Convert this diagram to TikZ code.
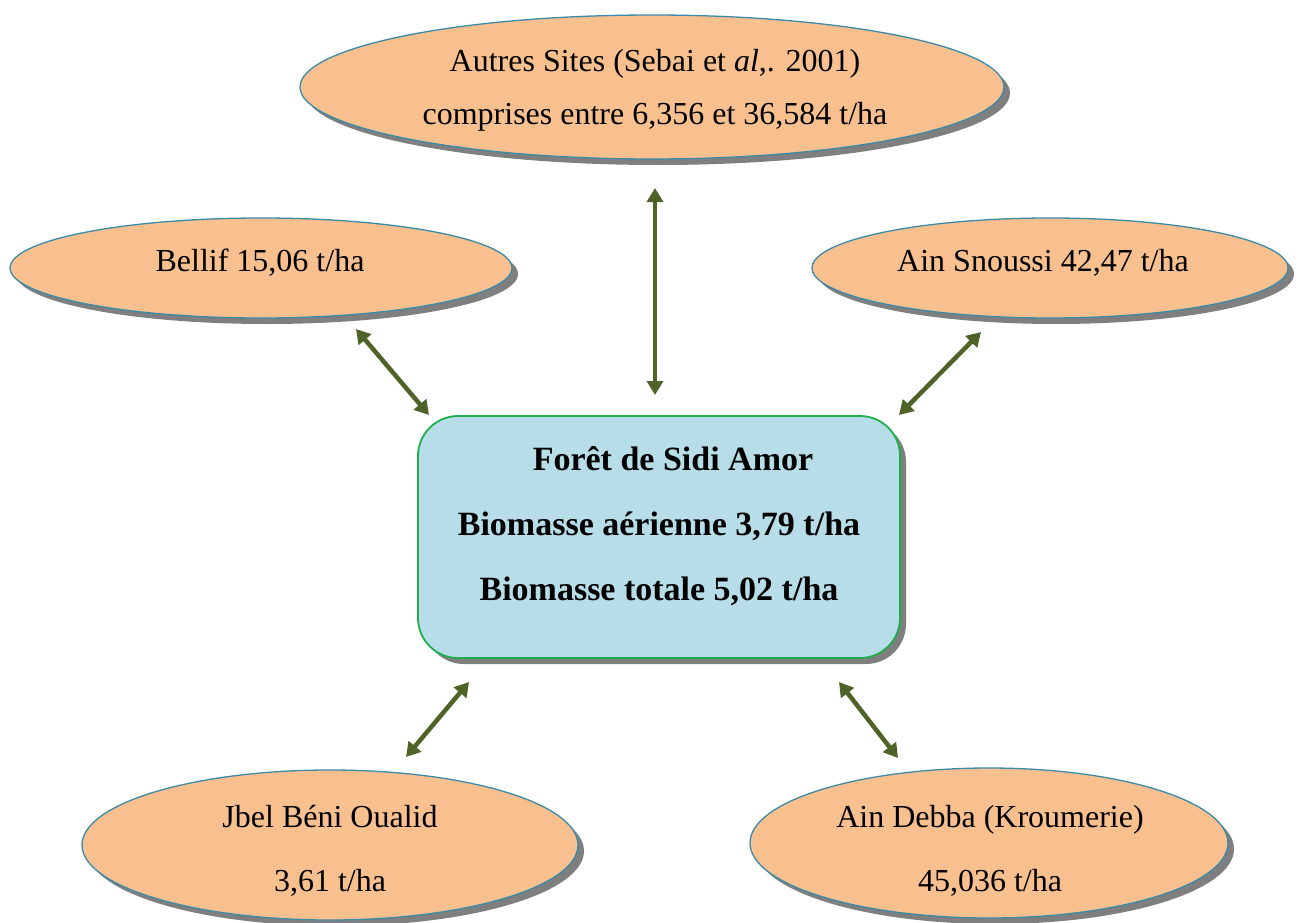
\documentclass[tikz,border=0pt]{standalone}
\usepackage{fontspec}
\setmainfont{Liberation Serif}
\usetikzlibrary{shapes.geometric,shadows,arrows.meta}
\definecolor{peach}{HTML}{F8C08F}
\definecolor{ellborder}{HTML}{3A8AA8}
\definecolor{boxfill}{HTML}{B7DDE8}
\definecolor{boxborder}{HTML}{1DAF4E}
\definecolor{arrowgreen}{HTML}{4F6228}
\definecolor{shadowgray}{HTML}{7F7F7F}
\tikzset{
  oval/.style={ellipse, draw=ellborder, line width=1.3pt, fill=peach, inner sep=0pt,
    drop shadow={shadow xshift=6pt, shadow yshift=-6pt, fill=shadowgray, opacity=1}},
  centerbox/.style={rectangle, rounded corners=40pt, draw=boxborder, line width=1.8pt, fill=boxfill,
    drop shadow={shadow xshift=6pt, shadow yshift=-6pt, fill=shadowgray, opacity=1}},
  lbl/.style={font=\fontsize{32}{64}\selectfont, align=center, inner sep=0pt},
  blbl/.style={font=\fontsize{34}{65}\selectfont\bfseries, align=center, inner sep=0pt},
  link/.style={draw=arrowgreen, line width=4.5pt, {Triangle[length=14pt,width=16pt]}-{Triangle[length=14pt,width=16pt]}}
}
\begin{document}
\begin{tikzpicture}[x=1pt,y=-1pt]
\useasboundingbox (0,0) rectangle (1298,923);
% shapes
\node[oval, minimum width=704pt, minimum height=144pt] (top) at (652,87) {};
\node[oval, minimum width=502pt, minimum height=100pt] (bellif) at (261,268) {};
\node[oval, minimum width=476pt, minimum height=100pt] (snoussi) at (1050,268) {};
\node[oval, minimum width=496pt, minimum height=150pt] (jbel) at (330,845) {};
\node[oval, minimum width=478pt, minimum height=150pt] (debba) at (989,843) {};
\node[centerbox, minimum width=482pt, minimum height=242pt] (foret) at (659,537) {};
% texts
\node[lbl, font=\fontsize{32}{53}\selectfont] (toptext) at (655,90) {Autres Sites (Sebai et \textit{al},. 2001)\\comprises entre 6,356 et 36,584 t/ha};
\node[lbl] (belliftext) at (260,263) {Bellif 15,06 t/ha};
\node[lbl] (snoussitext) at (1043,263) {Ain Snoussi 42,47 t/ha};
\node[lbl] (jbeltext) at (330,851) {Jbel Béni Oualid\\3,61 t/ha};
\node[lbl] (debbatext) at (990,851) {Ain Debba (Kroumerie)\\45,036 t/ha};
\node[blbl] (forettext) at (659,526) {\hspace*{28pt}Forêt de Sidi Amor\\Biomasse aérienne 3,79 t/ha\\Biomasse totale 5,02 t/ha};
% connector ends
\coordinate (a1) at (655,188);
\coordinate (a2) at (655,395);
\coordinate (b1) at (356,329);
\coordinate (b2) at (429,415);
\coordinate (c1) at (981,332);
\coordinate (c2) at (899,415);
\coordinate (d1) at (469,682);
\coordinate (d2) at (406,757);
\coordinate (e1) at (839,682);
\coordinate (e2) at (898,758);
\draw[link] (a1) -- (a2);
\draw[link] (b1) -- (b2);
\draw[link] (c1) -- (c2);
\draw[link] (d1) -- (d2);
\draw[link] (e1) -- (e2);
\end{tikzpicture}
\end{document}
